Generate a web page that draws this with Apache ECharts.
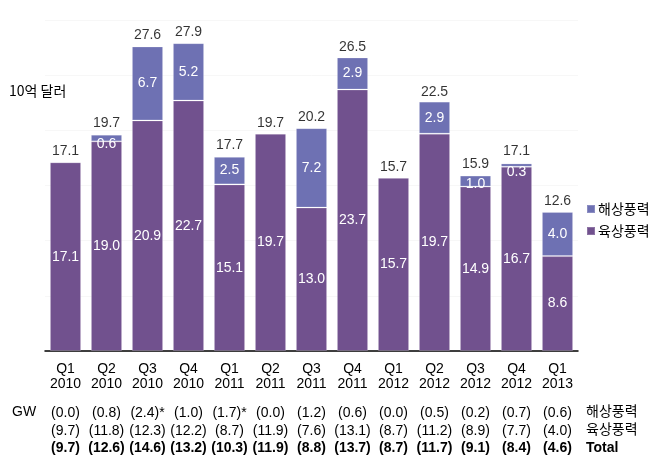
<!DOCTYPE html>
<html>
<head>
<meta charset="utf-8">
<script src="https://cdn.jsdelivr.net/npm/echarts@6/dist/echarts.min.js"></script>
<style>
  html, body { margin: 0; padding: 0; background: #fff; }
  #chart { width: 661px; height: 470px; }
</style>
</head>
<body>
<div id="chart"></div>
<script>
// 분기
var quarters = ["Q1\n2010", "Q2\n2010", "Q3\n2010", "Q4\n2010", "Q1\n2011", "Q2\n2011", "Q3\n2011",
  "Q4\n2011", "Q1\n2012", "Q2\n2012", "Q3\n2012", "Q4\n2012", "Q1\n2013"];
// 10억 달러
var onshore = [17.1, 19.0, 20.9, 22.7, 15.1, 19.7, 13.0, 23.7, 15.7, 19.7, 14.9, 16.7, 8.6];
var offshore = [0, 0.6, 6.7, 5.2, 2.5, 0, 7.2, 2.9, 0, 2.9, 1.0, 0.3, 4.0];
var totals = [17.1, 19.7, 27.6, 27.9, 17.7, 19.7, 20.2, 26.5, 15.7, 22.5, 15.9, 17.1, 12.6];
// GW 표
var gwOffshore = ["(0.0)", "(0.8)", "(2.4)*", "(1.0)", "(1.7)*", "(0.0)", "(1.2)", "(0.6)", "(0.0)", "(0.5)", "(0.2)", "(0.7)", "(0.6)"];
var gwOnshore = ["(9.7)", "(11.8)", "(12.3)", "(12.2)", "(8.7)", "(11.9)", "(7.6)", "(13.1)", "(8.7)", "(11.2)", "(8.9)", "(7.7)", "(4.0)"];
var gwTotal = ["(9.7)", "(12.6)", "(14.6)", "(13.2)", "(10.3)", "(11.9)", "(8.8)", "(13.7)", "(8.7)", "(11.7)", "(9.1)", "(8.4)", "(4.6)"];

var FONT = "'Liberation Sans', Arial, 'Noto Sans CJK KR', sans-serif";
var KFONT = "'Noto Sans CJK KR', 'Liberation Sans', sans-serif";

var chart = echarts.init(document.getElementById("chart"));

function fmt1(p) {
  return Number(p.value).toFixed(1);
}

// 표 한 줄을 x축으로 만든다
function tableAxis(list, offset, bold) {
  return {
    type: "category",
    gridIndex: 0,
    position: "bottom",
    offset: offset,
    data: list,
    axisLine: { show: false },
    axisTick: { show: false },
    axisLabel: {
      interval: 0,
      margin: 0,
      color: "#000",
      fontFamily: FONT,
      fontSize: 14,
      lineHeight: 15,
      fontWeight: bold ? "bold" : "normal",
    },
  };
}

chart.setOption({
  animation: false,
  textStyle: { fontFamily: FONT },
  grid: { left: 45, right: 83, top: 20, bottom: 119 },
  legend: {
    orient: "vertical",
    left: 581,
    top: 197,
    itemWidth: 8,
    itemHeight: 8,
    itemGap: 8,
    icon: "rect",
    data: ["해상풍력", "육상풍력"],
    textStyle: { fontFamily: KFONT, fontSize: 14, color: "#000", padding: [0, 0, 0, -2] },
  },
  xAxis: [
    {
      type: "category",
      data: quarters,
      axisLine: { lineStyle: { color: "#000", width: 1.5 } },
      axisTick: { alignWithLabel: false, length: 6, lineStyle: { color: "#000", width: 1.5 } },
      axisLabel: { interval: 0, margin: 11, color: "#000", fontSize: 14, lineHeight: 15, fontFamily: FONT },
    },
    tableAxis(gwOffshore, 54.5, false),
    tableAxis(gwOnshore, 72.5, false),
    tableAxis(gwTotal, 90, true),
  ],
  yAxis: {
    type: "value",
    min: 0,
    max: 30,
    interval: 5,
    axisLine: { show: false },
    axisTick: { show: false },
    axisLabel: { show: false },
    splitLine: { lineStyle: { color: "#f7f7f7", width: 1 } },
  },
  graphic: [
    { type: "text", left: 9, top: 84, style: { text: "10억 달러", fontFamily: KFONT, fontSize: 14, fill: "#000" } },
    { type: "text", left: 12, top: 405, style: { text: "GW", fontFamily: FONT, fontSize: 14, fill: "#000" } },
    { type: "text", left: 586, top: 404, style: { text: "해상풍력", fontFamily: KFONT, fontSize: 14, fill: "#000" } },
    { type: "text", left: 586, top: 422, style: { text: "육상풍력", fontFamily: KFONT, fontSize: 14, fill: "#000" } },
    { type: "text", left: 586, top: 441, style: { text: "Total", fontFamily: FONT, fontSize: 14, fontWeight: "bold", fill: "#000" } },
  ],
  series: [
    {
      name: "육상풍력",
      type: "bar",
      stack: "wind",
      barCategoryGap: "24%",
      itemStyle: { color: "#71518e", borderColor: "rgba(255,255,255,0.2)", borderWidth: 1 },
      label: { show: true, position: "inside", color: "#fff", fontSize: 14, fontFamily: FONT, formatter: fmt1 },
      data: onshore,
    },
    {
      name: "해상풍력",
      type: "bar",
      stack: "wind",
      itemStyle: { color: "#6e71b3", borderColor: "rgba(255,255,255,0.2)", borderWidth: 1 },
      label: { show: true, position: "inside", color: "#fff", fontSize: 14, fontFamily: FONT, formatter: fmt1 },
      data: offshore.map(function (v) {
        if (v === 0) return { value: v, label: { show: false } };
        if (v < 1.5) return { value: v, label: { position: "insideTop", distance: 2 } };
        return v;
      }),
    },
    {
      name: "total",
      type: "scatter",
      symbolSize: 0,
      silent: true,
      label: {
        show: true,
        position: "top",
        distance: 4,
        color: "#000",
        fontSize: 14,
        fontFamily: FONT,
        formatter: fmt1,
      },
      data: totals,
    },
  ],
});
</script>
</body>
</html>
